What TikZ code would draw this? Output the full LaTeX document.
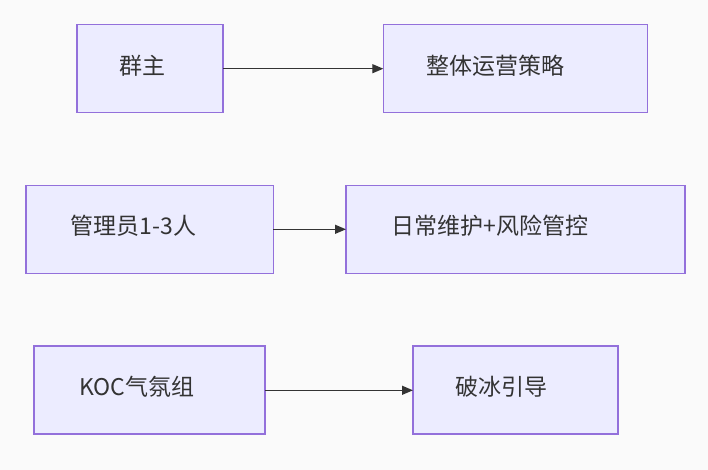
\documentclass[tikz,border=0pt]{standalone}
\usepackage{fontspec}
\newfontfamily\cjk{Noto Sans CJK SC}
\usetikzlibrary{arrows.meta}
\definecolor{bg}{RGB}{250,250,250}
\definecolor{boxfill}{RGB}{236,236,255}
\definecolor{boxline}{RGB}{147,112,219}
\definecolor{ink}{RGB}{51,51,51}
\tikzset{
  flowbox/.style={draw=boxline, fill=boxfill, line width=1.3pt},
  lbl/.style={anchor=west, inner sep=0pt, text=ink, font=\cjk\fontsize{23pt}{26pt}\selectfont},
  conn/.style={draw=ink, line width=1.3pt, -{Triangle[length=11pt,width=9pt]}}
}
\begin{document}
\begin{tikzpicture}[x=1pt,y=-1pt]
\fill[bg] (0,0) rectangle (708,470);
\useasboundingbox (0,0) rectangle (708,470);
% row 1
\draw[flowbox] (77,24.3) rectangle (223,112.7);
\draw[flowbox] (383.3,24.3) rectangle (647.3,112.7);
\coordinate (a1) at (223,68.7);
\coordinate (b1) at (383.3,68.7);
\node[lbl] (t1) at (119,66) {群主};
\node[lbl] (t2) at (426,66) {整体运营策略};
\draw[conn] (a1) -- (b1);
% row 2
\draw[flowbox] (26,185.3) rectangle (273.3,273.3);
\draw[flowbox] (346,185.3) rectangle (685,273.3);
\coordinate (a2) at (273.3,229.3);
\coordinate (b2) at (346,229.3);
\node[lbl] (t3) at (70.5,226) {管理员1-3人};
\node[lbl] (t4) at (391.5,226) {日常维护+风险管控};
\draw[conn] (a2) -- (b2);
% row 3
\draw[flowbox] (34,346) rectangle (265,434);
\draw[flowbox] (413,346) rectangle (618,434);
\coordinate (a3) at (265,390.3);
\coordinate (b3) at (413,390.3);
\node[lbl] (t5) at (79,387) {KOC气氛组};
\node[lbl] (t6) at (455.5,387) {破冰引导};
\draw[conn] (a3) -- (b3);
\end{tikzpicture}
\end{document}
